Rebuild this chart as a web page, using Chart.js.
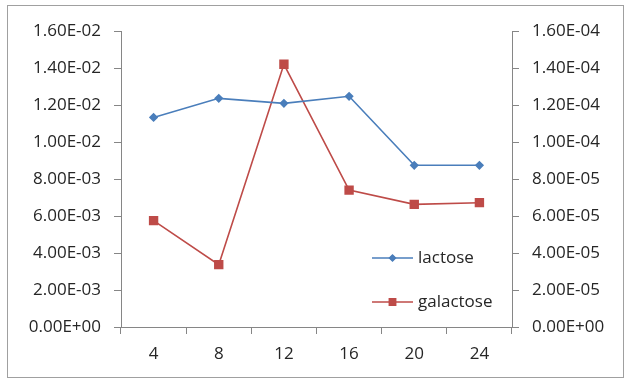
<!DOCTYPE html>
<html>
<head>
<meta charset="utf-8">
<script src="https://cdn.jsdelivr.net/npm/chart.js@4"></script>
<style>
  html, body { margin: 0; padding: 0; background: #fff; }
  #wrap { position: relative; width: 627px; height: 382px; }
  #frame { position: absolute; left: 7px; top: 5px; width: 617px; height: 373px; border: 1px solid #a0a0a0; box-sizing: border-box; }
  canvas { position: absolute; left: 0; top: 0; }
</style>
</head>
<body>
<div id="wrap">
  <div id="frame"></div>
  <canvas id="chart" width="627" height="382"></canvas>
</div>
<script>
const hours = ["4", "8", "12", "16", "20", "24"];
const lactose = [0.01133, 0.01236, 0.01209, 0.01247, 0.00874, 0.00874];
const galactose = [0.0000575, 0.0000337, 0.000142, 0.000074, 0.0000663, 0.0000672];

const blue = "#4a7ebb";
const red = "#be4b48";
const axisGray = "#868686";
const textColor = "#262626";
const font = { family: "Open Sans", size: 17 };

function sci(v) {
  if (v === 0) return "0.00E+00";
  const parts = v.toExponential(2).split("e");
  let exp = parseInt(parts[1], 10);
  const sign = exp < 0 ? "-" : "+";
  exp = Math.abs(exp);
  return parts[0] + "E" + sign + (exp < 10 ? "0" + exp : exp);
}

// legend drawn inside the plot area, lower right
const insideLegend = {
  id: "insideLegend",
  afterDraw(chart) {
    const ctx = chart.ctx;
    const area = chart.chartArea;
    const x0 = area.right - 140;
    const rows = [area.bottom - 69, area.bottom - 25];
    chart.data.datasets.forEach((ds, i) => {
      const y = rows[i];
      ctx.save();
      ctx.strokeStyle = ds.borderColor;
      ctx.lineWidth = 1.5;
      ctx.beginPath();
      ctx.moveTo(x0, y);
      ctx.lineTo(x0 + 41, y);
      ctx.stroke();
      Chart.helpers.drawPoint(ctx, {
        pointStyle: ds.pointStyle,
        radius: ds.pointStyle === "rect" ? 4.5 : 3,
        rotation: 0,
        borderWidth: 1
      }, x0 + 20.5, y);
      ctx.fillStyle = ds.pointBackgroundColor;
      ctx.fill();
      ctx.fillStyle = textColor;
      ctx.font = "17px 'Open Sans'";
      ctx.textBaseline = "middle";
      ctx.textAlign = "left";
      ctx.fillText(ds.label, x0 + 46, y);
      ctx.restore();
    });
  }
};

new Chart(document.getElementById("chart"), {
  type: "line",
  data: {
    labels: hours,
    datasets: [
      {
        label: "lactose",
        data: lactose,
        yAxisID: "y",
        borderColor: blue,
        backgroundColor: blue,
        pointBackgroundColor: blue,
        pointBorderColor: blue,
        pointStyle: "rectRot",
        pointRadius: 3.5,
        borderWidth: 1.6,
        tension: 0
      },
      {
        label: "galactose",
        data: galactose,
        yAxisID: "y2",
        borderColor: red,
        backgroundColor: red,
        pointBackgroundColor: red,
        pointBorderColor: red,
        pointStyle: "rect",
        pointRadius: 5.5,
        borderWidth: 1.6,
        tension: 0
      }
    ]
  },
  options: {
    responsive: false,
    animation: false,
    layout: { padding: { top: 31, left: 0, right: 0, bottom: 0 } },
    plugins: {
      legend: { display: false },
      tooltip: { enabled: false }
    },
    scales: {
      x: {
        offset: true,
        afterFit(scale) { scale.height = 55; },
        border: { color: axisGray, width: 1 },
        grid: { display: true, drawOnChartArea: false, offset: true, tickLength: 7, color: axisGray },
        ticks: { color: textColor, font: font, padding: 10 }
      },
      y: {
        position: "left",
        min: 0,
        max: 0.016,
        afterFit(scale) { scale.width = 121; },
        border: { color: axisGray, width: 1 },
        grid: { drawOnChartArea: false, tickLength: 7, color: axisGray },
        ticks: { stepSize: 0.002, color: textColor, font: font, padding: 13, callback: (v) => sci(v) }
      },
      y2: {
        position: "right",
        min: 0,
        max: 0.00016,
        afterFit(scale) { scale.width = 115; },
        border: { color: axisGray, width: 1 },
        grid: { drawOnChartArea: false, tickLength: 7, color: axisGray },
        ticks: { stepSize: 0.00002, color: textColor, font: font, padding: 13, callback: (v) => sci(v) }
      }
    }
  },
  plugins: [insideLegend]
});
</script>
</body>
</html>
